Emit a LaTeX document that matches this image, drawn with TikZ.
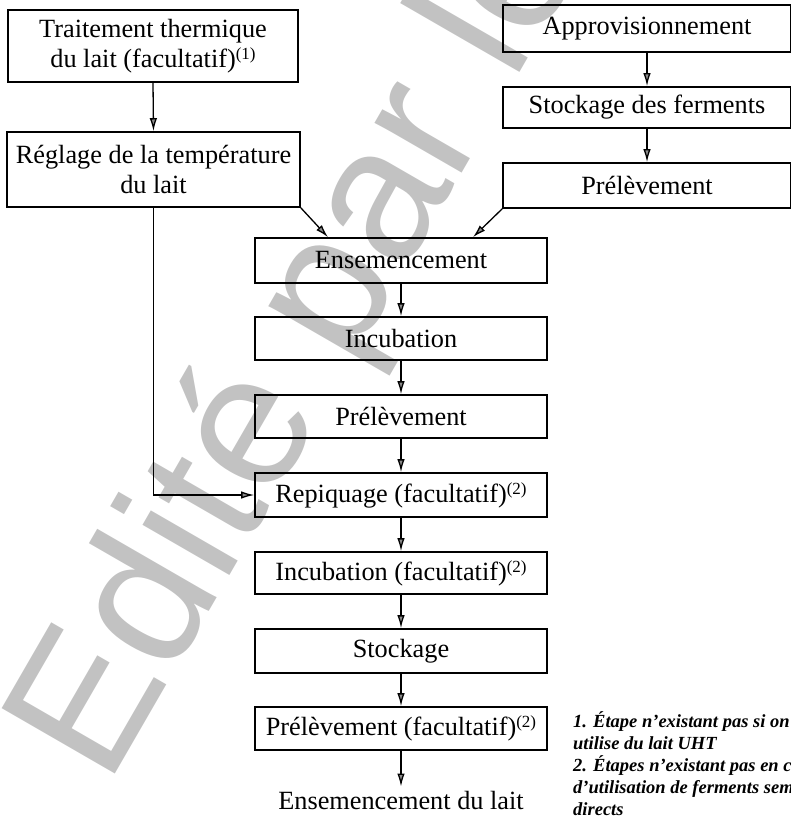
\documentclass[tikz,border=0pt]{standalone}
\usepackage{fontspec}
\setmainfont{Liberation Serif}
\newfontfamily\wmfont{Liberation Sans}
\usetikzlibrary{arrows.meta,calc}

\definecolor{wmgray}{RGB}{194,194,194}

\tikzset{
  stepbox/.style={draw, line width=1.6pt, rectangle, inner sep=0pt, align=center,
    font=\fontsize{26.3}{29.5}\selectfont},
  flow/.style={line width=1.3pt, -{Latex[length=13pt,width=7.5pt,fill=black!45]}},
  notetext/.style={inner sep=0pt, align=left,
    font=\fontsize{18.5}{21}\selectfont\bfseries\itshape},
  watermark/.style={wmgray, rotate=60, anchor=base west, inner sep=0pt,
    font=\wmfont\fontsize{190}{190}\selectfont},
}
\newcommand\noteref[1]{\raisebox{8pt}{\fontsize{17}{17}\selectfont(#1)}}

\begin{document}
\begin{tikzpicture}[x=1pt,y=-1pt]
\useasboundingbox (0,0) rectangle (791,818);
\begin{scope}
\clip (0,0) rectangle (791,818);

% background stamp
\node[watermark] (stamp) at (107,788) {Edité par le};

% left column: milk preparation
\node[stepbox, minimum width=290pt, minimum height=72pt] (trait) at (153,46)
  {Traitement thermique\\du lait (facultatif)\noteref{1}};
\node[stepbox, minimum width=293pt, minimum height=75pt] (regl) at (153.5,169.5)
  {Réglage de la température\\du lait};

% right column: starter cultures
\node[stepbox, minimum width=288pt, minimum height=47pt] (appro) at (647,28.5) {Approvisionnement};
\node[stepbox, minimum width=288pt, minimum height=41pt] (stock) at (647,107.5) {Stockage des ferments};
\node[stepbox, minimum width=288pt, minimum height=45pt] (prelR) at (647,185.5) {Prélèvement};

% central chain
\node[stepbox, minimum width=292pt, minimum height=45pt] (ense)  at (401,260.5) {Ensemencement};
\node[stepbox, minimum width=292pt, minimum height=43pt] (incu)  at (401,338.5) {Incubation};
\node[stepbox, minimum width=292pt, minimum height=43pt] (prel)  at (401,416.5) {Prélèvement};
\node[stepbox, minimum width=292pt, minimum height=44pt] (repi)  at (401,495)   {Repiquage (facultatif)\noteref{2}};
\node[stepbox, minimum width=292pt, minimum height=42pt] (incu2) at (401,573)   {Incubation (facultatif)\noteref{2}};
\node[stepbox, minimum width=292pt, minimum height=44pt] (stoc)  at (401,651)   {Stockage};
\node[stepbox, minimum width=292pt, minimum height=43pt] (prel2) at (401,728.5) {Prélèvement (facultatif)\noteref{2}};
\node[inner sep=4pt, anchor=base, font=\fontsize{26.3}{29.5}\selectfont] (final) at (401,809)
  {Ensemencement du lait};

% connectors
\draw[flow] (trait.south) -- (regl.north);
\draw[flow] (appro.south) -- (stock.north);
\draw[flow] (stock.south) -- (prelR.north);
\draw[flow] (regl.south east) -- ($(ense.north)+(-73,0)$);
\draw[flow] (prelR.south west) -- ($(ense.north)+(72,0)$);
\draw[flow] (regl.south) |- (repi.west);
\draw[flow] (ense) -- (incu);
\draw[flow] (incu) -- (prel);
\draw[flow] (prel) -- (repi);
\draw[flow] (repi) -- (incu2);
\draw[flow] (incu2) -- (stoc);
\draw[flow] (stoc) -- (prel2);
\draw[flow] (prel2) -- (final);

% footnotes
\node[notetext, anchor=north west] (notes) at (573,711)
  {1. Étape n’existant pas si on\\[1pt]utilise du lait UHT\\[1pt]2. Étapes n’existant pas en cas\\[1pt]d’utilisation de ferments semi-\\[1pt]directs};
\end{scope}
\end{tikzpicture}
\end{document}
